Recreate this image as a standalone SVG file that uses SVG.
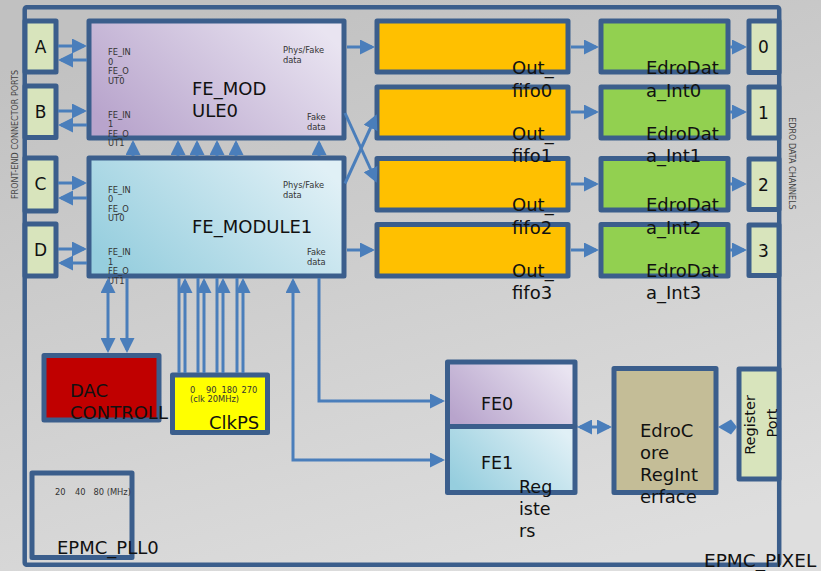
<svg xmlns="http://www.w3.org/2000/svg" width="821" height="571" viewBox="0 0 821 571">
<defs>
<linearGradient id="bg" x1="0.3" y1="0" x2="0.7" y2="1">
<stop offset="0" stop-color="#C1C1C1"/>
<stop offset="1" stop-color="#DEDEDE"/>
</linearGradient>
<linearGradient id="purple" x1="0" y1="0.75" x2="1" y2="0.25">
<stop offset="0" stop-color="#B8A4CC"/>
<stop offset="1" stop-color="#E9E4F1"/>
</linearGradient>
<linearGradient id="blue" x1="0" y1="0.75" x2="1" y2="0.25">
<stop offset="0" stop-color="#96CEDE"/>
<stop offset="1" stop-color="#E0F0F6"/>
</linearGradient>
<marker id="ah" markerUnits="userSpaceOnUse" viewBox="0 0 15 15" markerWidth="15" markerHeight="15" refX="12" refY="7.5" orient="auto-start-reverse">
<path d="M0,0 L15,7.5 L0,15 z" fill="#4A7EBB"/>
</marker>
<style>
.box{stroke:#3B5E8C;stroke-width:5;stroke-linejoin:round}
.port{fill:#D8E4BC}
.fifo{fill:#FFC000}
.edro{fill:#92D050}
.c{fill:none;stroke:#4A7EBB;stroke-width:3}
.cap{font-family:"DejaVu Sans",Verdana,sans-serif;fill:#111}
.big{font-size:18px}
.sm{font-size:8.3px;fill:#333}
.side{font-size:8px;fill:#444;font-family:"DejaVu Sans",Verdana,sans-serif}
</style>
</defs>
<rect x="0" y="0" width="821" height="571" fill="url(#bg)"/>

<g id="EPMC_PIXEL">
<rect x="24.7" y="7.2" width="754.5" height="557.5" rx="2" fill="none" stroke="#3B5E8C" stroke-width="4.5"/>
<text class="cap" x="704" y="567" font-size="18.5px">EPMC_PIXEL</text>
</g>

<text class="side" transform="translate(18,134.5) rotate(-90)" text-anchor="middle">FRONT-END CONNECTOR PORTS</text>
<text class="side" transform="translate(789,163.5) rotate(90)" text-anchor="middle">EDRO DATA CHANNELS</text>

<g id="port_A"><rect class="box port" x="25" y="21" width="31" height="51"/><text class="cap" x="40.5" y="53" font-size="17px" text-anchor="middle">A</text></g>
<g id="port_B"><rect class="box port" x="25" y="86" width="31" height="51.5"/><text class="cap" x="40.5" y="118" font-size="17px" text-anchor="middle">B</text></g>
<g id="port_C"><rect class="box port" x="25" y="158" width="31" height="53"/><text class="cap" x="40.5" y="190" font-size="17px" text-anchor="middle">C</text></g>
<g id="port_D"><rect class="box port" x="25" y="224" width="31" height="52"/><text class="cap" x="40.5" y="256" font-size="17px" text-anchor="middle">D</text></g>

<g id="FE_MODULE1">
<rect class="box" x="89" y="158" width="255" height="118" fill="url(#blue)"/>
<text class="cap sm" x="108" y="192.5">FE_IN</text>
<text class="cap sm" x="108" y="202">0</text>
<text class="cap sm" x="108" y="211.5">FE_O</text>
<text class="cap sm" x="108" y="221">UT0</text>
<text class="cap sm" x="108" y="255">FE_IN</text>
<text class="cap sm" x="108" y="264.5">1</text>
<text class="cap sm" x="108" y="274">FE_O</text>
<text class="cap sm" x="108" y="283.5">UT1</text>
<text class="cap sm" x="283" y="188">Phys/Fake</text>
<text class="cap sm" x="283" y="197.5">data</text>
<text class="cap sm" x="307" y="255">Fake</text>
<text class="cap sm" x="307" y="264.5">data</text>
<text class="cap big" x="192" y="233">FE_MODULE1</text>
</g>

<g id="FE_MODULE0">
<rect class="box" x="89" y="21" width="255" height="117" fill="url(#purple)"/>
<text class="cap sm" x="108" y="55">FE_IN</text>
<text class="cap sm" x="108" y="64.5">0</text>
<text class="cap sm" x="108" y="74">FE_O</text>
<text class="cap sm" x="108" y="83.5">UT0</text>
<text class="cap sm" x="108" y="117.5">FE_IN</text>
<text class="cap sm" x="108" y="127">1</text>
<text class="cap sm" x="108" y="136.5">FE_O</text>
<text class="cap sm" x="108" y="146">UT1</text>
<text class="cap sm" x="283" y="53">Phys/Fake</text>
<text class="cap sm" x="283" y="63">data</text>
<text class="cap sm" x="307" y="120">Fake</text>
<text class="cap sm" x="307" y="130">data</text>
<text class="cap big" x="192" y="95">FE_MOD</text>
<text class="cap big" x="192" y="117">ULE0</text>
</g>

<g id="Out_fifo3"><rect class="box fifo" x="377" y="224.5" width="191" height="51.5"/><text class="cap big" x="512" y="277">Out_</text><text class="cap big" x="512" y="299">fifo3</text></g>
<g id="Out_fifo2"><rect class="box fifo" x="377" y="158.5" width="191" height="51.5"/><text class="cap big" x="512" y="211">Out_</text><text class="cap big" x="512" y="233.5">fifo2</text></g>
<g id="Out_fifo1"><rect class="box fifo" x="377" y="87" width="191" height="51"/><text class="cap big" x="512" y="140">Out_</text><text class="cap big" x="512" y="162">fifo1</text></g>
<g id="Out_fifo0"><rect class="box fifo" x="377" y="21" width="191" height="51"/><text class="cap big" x="512" y="73.5">Out_</text><text class="cap big" x="512" y="96.5">fifo0</text></g>

<g id="EdroData_Int3"><rect class="box edro" x="601" y="224.5" width="127" height="51.5"/><text class="cap big" x="646" y="277">EdroDat</text><text class="cap big" x="646" y="299">a_Int3</text></g>
<g id="EdroData_Int2"><rect class="box edro" x="601" y="158.5" width="127" height="51.5"/><text class="cap big" x="646" y="211">EdroDat</text><text class="cap big" x="646" y="233.5">a_Int2</text></g>
<g id="EdroData_Int1"><rect class="box edro" x="601" y="87" width="127" height="51"/><text class="cap big" x="646" y="140">EdroDat</text><text class="cap big" x="646" y="162">a_Int1</text></g>
<g id="EdroData_Int0"><rect class="box edro" x="601" y="21" width="127" height="51"/><text class="cap big" x="646" y="73.5">EdroDat</text><text class="cap big" x="646" y="96.5">a_Int0</text></g>

<g id="ch0"><rect class="box port" x="749" y="21" width="30" height="51.5"/><text class="cap" x="763.5" y="53" font-size="17px" text-anchor="middle">0</text></g>
<g id="ch1"><rect class="box port" x="749" y="87" width="30" height="51"/><text class="cap" x="763.5" y="119" font-size="17px" text-anchor="middle">1</text></g>
<g id="ch2"><rect class="box port" x="749" y="159" width="30" height="50.5"/><text class="cap" x="763.5" y="191" font-size="17px" text-anchor="middle">2</text></g>
<g id="ch3"><rect class="box port" x="749" y="225" width="30" height="50.5"/><text class="cap" x="763.5" y="257" font-size="17px" text-anchor="middle">3</text></g>

<g id="DAC_CONTROLL">
<rect class="box" x="44" y="355.5" width="115" height="64.5" fill="#C00000"/>
<text class="cap big" x="70" y="397">DAC</text>
<text class="cap big" x="70" y="418.5">CONTROLL</text>
</g>

<g id="ClkPS">
<rect class="box" x="172.5" y="375" width="95" height="57.5" fill="#FFFF00"/>
<text class="cap sm" x="190" y="393">0</text>
<text class="cap sm" x="206" y="393">90</text>
<text class="cap sm" x="221.5" y="393">180</text>
<text class="cap sm" x="241.5" y="393">270</text>
<text class="cap sm" x="190" y="402">(clk 20MHz)</text>
<text class="cap big" x="209" y="428.5">ClkPS</text>
</g>

<g id="EPMC_PLL0">
<rect class="box" x="32" y="473" width="100" height="84.5" fill="none"/>
<text class="cap sm" x="55" y="495">20</text>
<text class="cap sm" x="75" y="495">40</text>
<text class="cap sm" x="93.5" y="495">80 (MHz)</text>
<text class="cap big" x="57" y="554">EPMC_PLL0</text>
</g>

<g id="FE_Registers">
<rect class="box" x="447.5" y="362" width="127.5" height="64.5" fill="url(#purple)"/>
<rect class="box" x="447.5" y="426.5" width="127.5" height="66" fill="url(#blue)"/>
<text class="cap" x="481" y="410" font-size="17.5px">FE0</text>
<text class="cap" x="481" y="469" font-size="17.5px">FE1</text>
<text class="cap" x="519" y="493" font-size="17.5px">Reg</text>
<text class="cap" x="519" y="515" font-size="17.5px">iste</text>
<text class="cap" x="519" y="537" font-size="17.5px">rs</text>
</g>

<g id="EdroCoreRegInterface">
<rect class="box" x="614" y="368.5" width="102" height="124" fill="#C4BD97"/>
<text class="cap big" x="640" y="437">EdroC</text>
<text class="cap big" x="640" y="459">ore</text>
<text class="cap big" x="640" y="481">RegInt</text>
<text class="cap big" x="640" y="503">erface</text>
</g>

<g id="Register_Port">
<rect class="box port" x="739" y="369" width="40" height="110"/>
<text class="cap" transform="translate(755,425) rotate(-90)" font-size="14.5px" text-anchor="middle">Register</text>
<text class="cap" transform="translate(777,423) rotate(-90)" font-size="14.5px" text-anchor="middle">Port</text>
</g>

<g id="connectors" fill="none">
<path class="c" d="M58,46 H84" marker-end="url(#ah)"/>
<path class="c" d="M87,60 H61" marker-end="url(#ah)"/>
<path class="c" d="M58,111 H84" marker-end="url(#ah)"/>
<path class="c" d="M87,125 H61" marker-end="url(#ah)"/>
<path class="c" d="M58,183 H84" marker-end="url(#ah)"/>
<path class="c" d="M87,198 H61" marker-end="url(#ah)"/>
<path class="c" d="M58,249 H84" marker-end="url(#ah)"/>
<path class="c" d="M87,263 H61" marker-end="url(#ah)"/>

<path class="c" d="M347,47 H372" marker-end="url(#ah)"/>
<path class="c" d="M347,250 H372" marker-end="url(#ah)"/>
<path class="c" d="M345,113 L375.5,180" marker-end="url(#ah)"/>
<path class="c" d="M345,183.5 L375.5,117" marker-end="url(#ah)"/>

<path class="c" d="M571,47 H596" marker-end="url(#ah)"/>
<path class="c" d="M571,112 H596" marker-end="url(#ah)"/>
<path class="c" d="M571,184 H596" marker-end="url(#ah)"/>
<path class="c" d="M571,250 H596" marker-end="url(#ah)"/>

<path class="c" d="M730,47 H744" marker-end="url(#ah)"/>
<path class="c" d="M730,112 H744" marker-end="url(#ah)"/>
<path class="c" d="M730,184 H744" marker-end="url(#ah)"/>
<path class="c" d="M730,250 H744" marker-end="url(#ah)"/>

<path class="c" d="M133,156 V143" marker-end="url(#ah)" stroke-width="2.5"/>
<path class="c" d="M178,156 V143" marker-end="url(#ah)" stroke-width="2.5"/>
<path class="c" d="M197,156 V143" marker-end="url(#ah)" stroke-width="2.5"/>
<path class="c" d="M217,156 V143" marker-end="url(#ah)" stroke-width="2.5"/>
<path class="c" d="M236,156 V143" marker-end="url(#ah)" stroke-width="2.5"/>
<path class="c" d="M319,156 V143" marker-end="url(#ah)" stroke-width="2.5"/>

<path class="c" d="M108,281 V350" marker-start="url(#ah)" marker-end="url(#ah)" stroke-width="2.5"/>
<path class="c" d="M127,278 V350" marker-end="url(#ah)" stroke-width="2.5"/>

<path class="c" d="M179,278 V373" stroke-width="2.3"/>
<path class="c" d="M198,278 V373" stroke-width="2.3"/>
<path class="c" d="M217,278 V373" stroke-width="2.3"/>
<path class="c" d="M237,278 V373" stroke-width="2.3"/>
<path class="c" d="M185,373 V281" marker-end="url(#ah)" stroke-width="2.3"/>
<path class="c" d="M204,373 V281" marker-end="url(#ah)" stroke-width="2.3"/>
<path class="c" d="M223,373 V281" marker-end="url(#ah)" stroke-width="2.3"/>
<path class="c" d="M243,373 V281" marker-end="url(#ah)" stroke-width="2.3"/>

<path class="c" d="M293,281 V460 H442" marker-start="url(#ah)" marker-end="url(#ah)" stroke-width="2.3"/>
<path class="c" d="M319,278 V401 H442" marker-end="url(#ah)" stroke-width="2.3"/>

<path class="c" d="M580,427 H609" marker-start="url(#ah)" marker-end="url(#ah)"/>
<polygon points="718,427 731,419.5 737,427 731,434.5" fill="#4A7EBB"/>
</g>
</svg>
